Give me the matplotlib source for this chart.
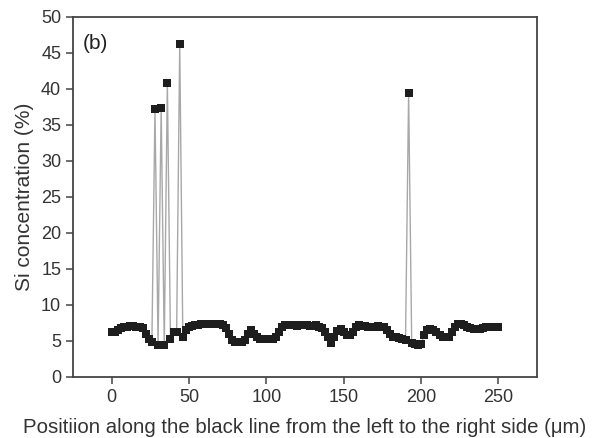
import numpy as np
import matplotlib
matplotlib.use("Agg")
import matplotlib.pyplot as plt

plt.rcParams['font.family'] = ['Liberation Sans', 'DejaVu Sans']

# Position along the line (µm), sampled every 2 µm
positions = np.arange(0, 252, 2)
si_conc = [
    6.2, 6.3, 6.5, 6.8, 7.0, 7.0, 7.1, 7.1, 7.0, 7.0,      # 0-18
    6.8, 6.0, 5.3, 4.8, 37.2, 4.5, 37.4, 4.4, 40.8, 5.3,   # 20-38
    6.2, 6.2, 46.3, 5.6, 6.5, 7.0, 7.1, 7.2, 7.2, 7.3,     # 40-58
    7.3, 7.3, 7.4, 7.4, 7.3, 7.3, 7.2, 6.8, 6.0, 5.2,      # 60-78
    4.9, 4.9, 4.9, 5.2, 6.0, 6.5, 6.0, 5.5, 5.3, 5.3,      # 80-98
    5.3, 5.3, 5.3, 5.5, 6.2, 6.9, 7.2, 7.2, 7.2, 7.2,      # 100-118
    7.1, 7.2, 7.2, 7.2, 7.1, 7.1, 7.2, 7.0, 6.8, 6.3,      # 120-138
    5.5, 4.7, 5.5, 6.4, 6.6, 6.2, 5.8, 5.8, 6.3, 6.9,      # 140-158
    7.2, 7.1, 7.1, 7.0, 7.0, 7.0, 7.1, 7.0, 6.9, 6.5,      # 160-178
    6.0, 5.6, 5.5, 5.4, 5.3, 5.2, 39.4, 4.7, 4.6, 4.5,     # 180-198
    4.6, 5.8, 6.5, 6.6, 6.5, 6.2, 5.9, 5.6, 5.5, 5.6,      # 200-218
    6.2, 7.0, 7.4, 7.4, 7.2, 7.0, 6.8, 6.7, 6.7, 6.6,      # 220-238
    6.8, 6.9, 6.9, 6.9, 7.0, 6.9,                          # 240-250
]
assert len(si_conc) == len(positions)

x_ticks = [0, 50, 100, 150, 200, 250]
y_ticks = [0, 5, 10, 15, 20, 25, 30, 35, 40, 45, 50]

fig = plt.figure(figsize=(5.95, 4.38), dpi=100)
ax = fig.add_axes([0.1227, 0.1393, 0.7798, 0.8219])

ax.plot(positions, si_conc, color='#a8a8a8', lw=1.0, zorder=2)
ax.plot(positions, si_conc, ls='none', marker='s', markersize=6.2,
        markerfacecolor='#1e1e1e', markeredgewidth=0, zorder=3)

ax.set_xlim(-25, 275)
ax.set_ylim(0, 50)
ax.set_xticks(x_ticks)
ax.set_yticks(y_ticks)

for s in ax.spines.values():
    s.set_color('#444444')
    s.set_linewidth(1.3)
ax.tick_params(direction='out', length=5, width=1.1, color='#444444',
               labelsize=13, labelcolor='#333333')

ax.set_xlabel('Positiion along the black line from the left to the right side (μm)',
              fontsize=14.7, color='#333333', labelpad=9)
ax.set_ylabel('Si concentration (%)', fontsize=15, color='#333333', labelpad=5)
ax.text(0.022, 0.91, '(b)', transform=ax.transAxes, fontsize=15, color='#222222')

fig.savefig('out.png', dpi=100)
